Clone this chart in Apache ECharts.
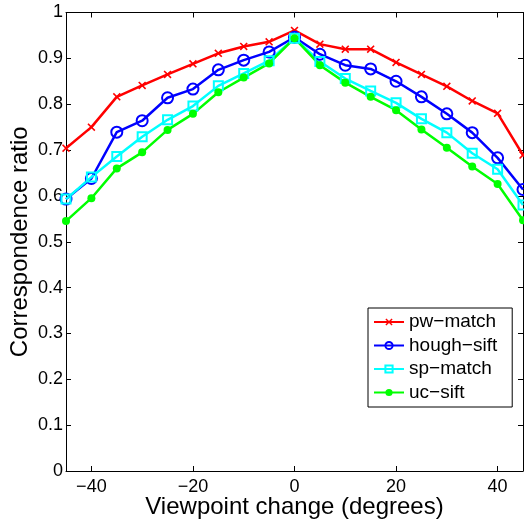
<!DOCTYPE html>
<html>
<head>
<meta charset="utf-8">
<script src="https://cdn.jsdelivr.net/npm/echarts@6/dist/echarts.min.js"></script>
<style>
  html, body { margin: 0; padding: 0; background: #fff; }
  #chart { width: 524px; height: 519px; }
</style>
</head>
<body>
<div id="chart"></div>
<script>
// viewpoint change (degrees)
const angles = [-45, -40, -35, -30, -25, -20, -15, -10, -5, 0, 5, 10, 15, 20, 25, 30, 35, 40, 45];

const pwMatch   = [0.704, 0.750, 0.816, 0.841, 0.865, 0.888, 0.911, 0.926, 0.936, 0.961, 0.931, 0.920, 0.920, 0.891, 0.865, 0.839, 0.807, 0.780, 0.689];
const houghSift = [0.593, 0.638, 0.739, 0.764, 0.814, 0.833, 0.875, 0.896, 0.914, 0.946, 0.909, 0.885, 0.877, 0.850, 0.816, 0.779, 0.738, 0.683, 0.614];
const spMatch   = [0.593, 0.641, 0.686, 0.729, 0.766, 0.796, 0.840, 0.867, 0.895, 0.944, 0.893, 0.856, 0.829, 0.803, 0.768, 0.738, 0.693, 0.658, 0.580];
const ucSift    = [0.545, 0.595, 0.660, 0.695, 0.744, 0.779, 0.826, 0.858, 0.889, 0.944, 0.885, 0.847, 0.816, 0.787, 0.745, 0.705, 0.664, 0.626, 0.547];

const seriesNames = ['pw\u2212match', 'hough\u2212sift', 'sp\u2212match', 'uc\u2212sift'];

const font = '"Liberation Sans", Arial, Helvetica, sans-serif';
const xMark = 'path://M0,1.4L1.4,0L5,3.6L8.6,0L10,1.4L6.4,5L10,8.6L8.6,10L5,6.4L1.4,10L0,8.6L3.6,5Z';

function pairs(vals) {
  return angles.map((a, i) => [a, vals[i]]);
}

function lineSeries(name, vals, color, symbol, size, filled) {
  return {
    name: name,
    type: 'line',
    data: pairs(vals),
    symbol: symbol,
    symbolSize: size,
    showAllSymbol: true,
    lineStyle: { color: color, width: 2.5 },
    itemStyle: filled
      ? { color: color, borderColor: color, borderWidth: 0 }
      : { color: 'rgba(0,0,0,0)', borderColor: color, borderWidth: 2 },
    emphasis: { disabled: true },
    animation: false
  };
}

const chart = echarts.init(document.getElementById('chart'));

const axisCommon = {
  axisLine: { show: true, onZero: false, lineStyle: { color: '#000', width: 1 } },
  axisTick: { show: true, inside: true, length: 5, lineStyle: { color: '#000' } },
  splitLine: { show: false }
};

chart.setOption({
  backgroundColor: '#fff',
  animation: false,
  grid: { left: 66, right: 1, top: 12.5, bottom: 48, containLabel: false, outerBoundsMode: 'none' },
  xAxis: [
    Object.assign({
      type: 'value', min: -45, max: 45, splitNumber: 5,
      name: 'Viewpoint change (degrees)',
      nameLocation: 'middle', nameGap: 24, nameMoveOverlap: false,
      nameTextStyle: { fontFamily: font, fontSize: 24, color: '#000' },
      axisLabel: {
        fontFamily: font, fontSize: 18, color: '#000', margin: 7,
        showMinLabel: false, showMaxLabel: false,
        formatter: v => String(v).replace('-', '\u2212')
      }
    }, axisCommon),
    Object.assign({
      type: 'value', min: -45, max: 45, splitNumber: 5, position: 'top',
      axisLabel: { show: false }
    }, axisCommon)
  ],
  yAxis: [
    Object.assign({
      type: 'value', min: 0, max: 1, interval: 0.1,
      name: 'Correspondence ratio',
      nameLocation: 'middle', nameGap: 34, nameMoveOverlap: false,
      nameTextStyle: { fontFamily: font, fontSize: 24, color: '#000' },
      axisLabel: { fontFamily: font, fontSize: 18, color: '#000', margin: 3 }
    }, axisCommon),
    Object.assign({
      type: 'value', min: 0, max: 1, interval: 0.1, position: 'right',
      axisLabel: { show: false }
    }, axisCommon)
  ],
  legend: {
    orient: 'vertical',
    left: 368,
    top: 308,
    data: seriesNames,
    itemWidth: 30,
    itemHeight: 9,
    itemGap: 3.5,
    itemTextGap: 4,
    padding: [4, 15, 4.5, 5],
    backgroundColor: '#fff',
    borderColor: '#000',
    borderWidth: 1,
    borderRadius: 0,
    selectedMode: false,
    textStyle: { fontFamily: font, fontSize: 19, color: '#000', lineHeight: 20 }
  },
  series: [
    lineSeries(seriesNames[0], pwMatch, '#ff0000', xMark, 8, true),
    lineSeries(seriesNames[1], houghSift, '#0000ff', 'circle', 11, false),
    lineSeries(seriesNames[2], spMatch, '#00ffff', 'rect', 9, false),
    lineSeries(seriesNames[3], ucSift, '#00ff00', 'circle', 8, true)
  ]
});
</script>
</body>
</html>
